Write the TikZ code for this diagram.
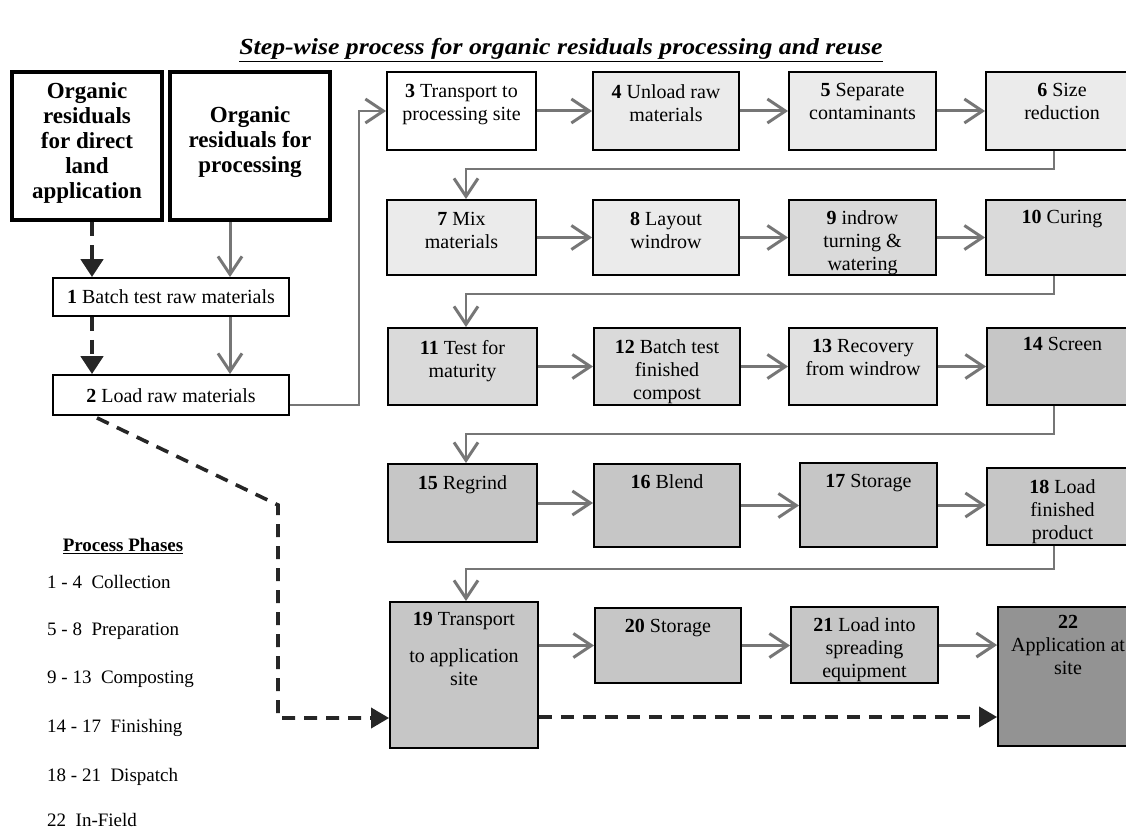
\documentclass[tikz,border=0pt]{standalone}
\usepackage{fontspec}
\setmainfont{Liberation Serif}
\usetikzlibrary{arrows.meta,calc,fit}
\definecolor{cone}{HTML}{EBEBEB}
\definecolor{ctwo}{HTML}{DADADA}
\definecolor{cthree}{HTML}{C6C6C6}
\definecolor{cfour}{HTML}{939393}
\definecolor{flowgray}{HTML}{767676}
\begin{document}
\begin{tikzpicture}[x=1pt,y=-1pt,
  box/.style={draw=black, line width=1.8pt, rectangle, inner sep=0pt},
  bigbox/.style={draw=black, line width=4pt, rectangle, inner sep=0pt},
  bigtext/.style={inner sep=0pt, align=center, font=\fontsize{23}{25}\selectfont\bfseries},
  lbl/.style={anchor=north, align=center, inner sep=0pt, font=\fontsize{20}{23}\selectfont},
  plain/.style={align=center, inner sep=0pt, font=\fontsize{20}{23}\selectfont},
  flow/.style={draw=flowgray, line width=3pt, -{Straight Barb[length=18pt,width=24pt]}},
  elbow/.style={draw=flowgray, line width=2.6pt, -{Straight Barb[length=18pt,width=24pt,line width=3pt]}},
  blk/.style={draw=black!85, line width=4.5pt, dash pattern=on 14pt off 9pt, -{Triangle[length=18pt,width=22pt]}},
  blkb/.style={draw=black!85, line width=3.6pt, dash pattern=on 13pt off 9pt, -{Triangle[length=18pt,width=20pt]}},
  leg/.style={anchor=west, inner sep=0pt, font=\fontsize{19}{22}\selectfont}
]
\useasboundingbox (0,0) rectangle (1126,832);
\clip (0,0) rectangle (1126,832);

% title
\node[inner sep=0pt, font=\fontsize{23}{26}\selectfont\bfseries\itshape] (title) at (561,50)
  {\scalebox{1.12}[1]{\underline{Step-wise process for organic residuals processing and reuse}}};

% left boxes
\node[bigbox, fit={(12,72)(162,220)}] (A) {};
\node[bigtext] (tA) at (87,143) {Organic\\residuals\\for direct\\land\\application};
\node[bigbox, fit={(170,72)(330,220)}] (B) {};
\node[bigtext] (tB) at (250,142) {Organic\\residuals for\\processing};
\node[box, fill=white, fit={(53,278)(289,316)}] (b1) {};
\node[plain] (t1) at (171,297) {\textbf{1} Batch test raw materials};
\node[box, fill=white, fit={(53,375)(289,415)}] (b2) {};
\node[plain] (t2) at (171,396) {\textbf{2} Load raw materials};

% row 1
\node[box, fill=white, fit={(387,72)(536,150)}] (b3) {};
\node[box, fill=cone, fit={(593,72)(739,150)}] (b4) {};
\node[box, fill=cone, fit={(789,72)(936,150)}] (b5) {};
\node[box, fill=cone, fit={(986,72)(1138,150)}] (b6) {};
\node[lbl] (t3) at ($(b3.north)+(0,13)$) {\textbf{3} Transport to\\processing site};
\node[lbl] (t4) at ($(b4.north)+(0,13)$) {\textbf{4} Unload raw\\materials};
\node[lbl] (t5) at ($(b5.north)+(0,12)$) {\textbf{5} Separate\\contaminants};
\node[lbl] (t6) at ($(b6.north)+(0,12)$) {\textbf{6} Size\\reduction};

% row 2
\node[box, fill=cone, fit={(387,200)(536,275)}] (b7) {};
\node[box, fill=cone, fit={(593,200)(739,275)}] (b8) {};
\node[box, fill=ctwo, fit={(789,200)(936,275)}] (b9) {};
\node[box, fill=ctwo, fit={(986,200)(1138,275)}] (b10) {};
\node[lbl] (t7) at ($(b7.north)+(0,13)$) {\textbf{7} Mix\\materials};
\node[lbl] (t8) at ($(b8.north)+(0,13)$) {\textbf{8} Layout\\windrow};
\node[lbl] (t9) at ($(b9.north)+(0,11)$) {\textbf{9} indrow\\turning \&\\watering};
\node[lbl] (t10) at ($(b10.north)+(0,11)$) {\textbf{10} Curing};

% row 3
\node[box, fill=ctwo, fit={(388,328)(537,405)}] (b11) {};
\node[box, fill=ctwo, fit={(594,328)(740,405)}] (b12) {};
\node[box, fill=ctwo!80!white, fit={(789,328)(937,405)}] (b13) {};
\node[box, fill=cthree, fit={(987,328)(1138,405)}] (b14) {};
\node[lbl] (t11) at ($(b11.north)+(0,13)$) {\textbf{11} Test for\\maturity};
\node[lbl] (t12) at ($(b12.north)+(0,12)$) {\textbf{12} Batch test\\finished\\compost};
\node[lbl] (t13) at ($(b13.north)+(0,12)$) {\textbf{13} Recovery\\from windrow};
\node[lbl] (t14) at ($(b14.north)+(0,10)$) {\textbf{14} Screen};

% row 4
\node[box, fill=cthree, fit={(388,464)(537,542)}] (b15) {};
\node[box, fill=cthree, fit={(594,464)(740,547)}] (b16) {};
\node[box, fill=cthree, fit={(800,463)(937,547)}] (b17) {};
\node[box, fill=cthree, fit={(987,468)(1138,545)}] (b18) {};
\node[lbl] (t15) at ($(b15.north)+(0,12)$) {\textbf{15} Regrind};
\node[lbl] (t16) at ($(b16.north)+(0,11)$) {\textbf{16} Blend};
\node[lbl] (t17) at ($(b17.north)+(0,12)$) {\textbf{17} Storage};
\node[lbl] (t18) at ($(b18.north)+(0,12)$) {\textbf{18} Load\\finished\\product};

% row 5
\node[box, fill=cthree, fit={(390,602)(538,748)}] (b19) {};
\node[box, fill=cthree, fit={(595,608)(741,683)}] (b20) {};
\node[box, fill=cthree, fit={(791,607)(938,683)}] (b21) {};
\node[box, fill=cfour, fit={(998,607)(1138,746)}] (b22) {};
\node[lbl] (t19) at ($(b19.north)+(0,11)$) {\textbf{19} Transport\\[14pt]to application\\site};
\node[lbl] (t20) at ($(b20.north)+(0,12)$) {\textbf{20} Storage};
\node[lbl] (t21) at ($(b21.north)+(0,11)$) {\textbf{21} Load into\\spreading\\equipment};
\node[lbl] (t22) at ($(b22.north)+(0,9)$) {\textbf{22}\\Application at\\site};

% legend
\node[inner sep=0pt, font=\fontsize{19}{22}\selectfont\bfseries] (legt) at (123,546) {\underline{Process Phases}};
\node[leg] (l1) at (47,582) {1 - 4\ \ Collection};
\node[leg] (l2) at (47,631) {5 - 8\ \ Preparation};
\node[leg] (l3) at (47,679) {9 - 13\ \ Composting};
\node[leg] (l4) at (47,728) {14 - 17\ \ Finishing};
\node[leg] (l5) at (47,777) {18 - 21\ \ Dispatch};
\node[leg] (l6) at (47,820) {22\ \ In-Field};

% left connectors
\draw[blk] ([xshift=5pt]A.south) -- ([xshift=5pt]A.south |- b1.north);
\draw[blk] ([xshift=-79pt]b1.south) -- ([xshift=-79pt]b1.south |- b2.north);
\draw[flow] ([xshift=-20pt]B.south) -- ([xshift=-20pt]B.south |- b1.north);
\draw[flow] ([xshift=59pt]b1.south) -- ([xshift=59pt]b1.south |- b2.north);
\draw[elbow] ([yshift=-10pt]b2.east) -- ++(69,0) |- (b3.west);

% row arrows
\draw[flow] (b3.east) -- (b3.east -| b4.west);
\draw[flow] (b4.east) -- (b4.east -| b5.west);
\draw[flow] (b5.east) -- (b5.east -| b6.west);
\draw[flow] (b7.east) -- (b7.east -| b8.west);
\draw[flow] (b8.east) -- (b8.east -| b9.west);
\draw[flow] (b9.east) -- (b9.east -| b10.west);
\draw[flow] (b11.east) -- (b11.east -| b12.west);
\draw[flow] (b12.east) -- (b12.east -| b13.west);
\draw[flow] (b13.east) -- (b13.east -| b14.west);
\draw[flow] (b15.east) -- (b15.east -| b16.west);
\draw[flow] (b16.east) -- (b16.east -| b17.west);
\draw[flow] (b17.east) -- (b17.east -| b18.west);
\draw[flow] (b19.east |- b20.west) -- (b20.west);
\draw[flow] (b20.east) -- (b20.east -| b21.west);
\draw[flow] (b21.east) -- (b21.east -| b22.west);

% elbow connectors between rows
\draw[elbow] ([xshift=-8pt]b6.south) -- ++(0,18) -| ([xshift=4.5pt]b7.north);
\draw[elbow] ([xshift=-8pt]b10.south) -- ++(0,18) -| ([xshift=3.5pt]b11.north);
\draw[elbow] ([xshift=-8.5pt]b14.south) -- ++(0,28) -| ([xshift=3.5pt]b15.north);
\draw[elbow] ([xshift=-8.5pt]b18.south) -- ++(0,23) -| ([xshift=2pt]b19.north);

% dashed direct application route
\coordinate (k1) at (278,505);
\draw[blkb] ([xshift=-74pt,yshift=-2pt]b2.south) -- (k1) |- ([yshift=-43pt]b19.west);
\draw[blkb] ([yshift=-42pt]b19.east) -- ([yshift=-42pt]b19.east -| b22.west);
\end{tikzpicture}
\end{document}
